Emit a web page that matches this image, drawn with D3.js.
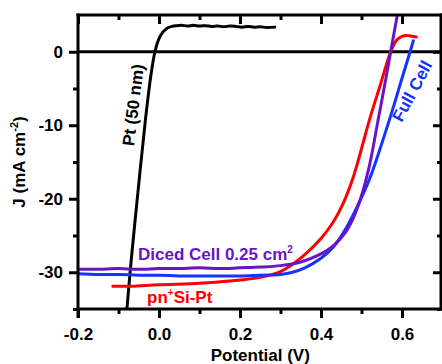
<!DOCTYPE html>
<html>
<head>
<meta charset="utf-8">
<script src="https://cdn.jsdelivr.net/npm/d3@7"></script>
<style>
  html, body { margin: 0; padding: 0; background: #fff; }
  svg { display: block; font-family: "Liberation Sans", Arial, Helvetica, sans-serif; font-weight: bold; }
</style>
</head>
<body>
<svg id="chart" width="442" height="364"></svg>
<script>
// Axis ticks and labels
const xMajor = [-0.2, 0.0, 0.2, 0.4, 0.6];
const xMajorLabels = ["-0.2", "0.0", "0.2", "0.4", "0.6"];
const xMinor = [-0.1, 0.1, 0.3, 0.5];
const yMajor = [0, -10, -20, -30];
const yMajorLabels = ["0", "-10", "-20", "-30"];
const yMinor = [-5, -15, -25, -35];

// Pt (50 nm) electrode
const ptV = [-0.080, -0.068, -0.050, -0.033, -0.020, -0.010, 0.000, 0.010, 0.020, 0.032, 0.045,
             0.055, 0.070, 0.085, 0.100, 0.115, 0.130, 0.145, 0.160, 0.175, 0.190,
             0.205, 0.220, 0.235, 0.250, 0.265, 0.286];
const ptJ = [-35.5, -28.0, -18.0, -9.0, -3.2, 0.0, 1.8, 2.7, 3.2, 3.45, 3.55,
             3.6, 3.5, 3.6, 3.5, 3.55, 3.45, 3.5, 3.4, 3.5, 3.45,
             3.35, 3.45, 3.35, 3.4, 3.3, 3.35];

// Diced cell 0.25 cm2
const dicedV = [-0.2, -0.15, -0.1, -0.05, 0.0, 0.05, 0.1, 0.15, 0.2, 0.25, 0.3, 0.35,
                0.40, 0.43, 0.46, 0.48, 0.50, 0.52, 0.54, 0.56, 0.572, 0.595];
const dicedJ = [-29.6, -29.6, -29.5, -29.6, -29.5, -29.5, -29.4, -29.5, -29.4, -29.3, -29.1, -28.6,
                -27.5, -26.4, -24.6, -22.6, -19.6, -15.4, -9.6, -3.7, 0.0, 7.0];

// Full cell
const fullV = [-0.2, -0.15, -0.1, -0.05, 0.0, 0.05, 0.1, 0.15, 0.2, 0.25, 0.30, 0.33,
               0.36, 0.40, 0.43, 0.46, 0.49, 0.52, 0.55, 0.58, 0.60, 0.62, 0.628];
const fullJ = [-30.2, -30.3, -30.3, -30.4, -30.4, -30.5, -30.5, -30.5, -30.5, -30.4, -30.3, -30.0,
               -29.4, -28.1, -26.6, -24.2, -21.0, -17.3, -12.5, -7.3, -3.6, 0.0, 1.5];

// pn+Si-Pt
const pnV = [-0.114, -0.07, 0.0, 0.1, 0.175, 0.25, 0.30, 0.33, 0.36, 0.40, 0.43, 0.455,
             0.48, 0.50, 0.52, 0.546, 0.572, 0.587, 0.600, 0.612, 0.625, 0.635];
const pnJ = [-31.9, -31.9, -31.7, -31.5, -31.2, -30.7, -29.9, -28.9, -27.6, -25.4, -23.2, -20.6,
             -17.0, -13.2, -9.2, -4.6, 0.0, 1.6, 2.1, 2.2, 2.1, 2.0];

const pLeft = 78, pRight = 442.5, pTop = 15, pBottom = 309;

const x = d3.scaleLinear().domain([-0.2, 0.7]).range([pLeft, pRight]);
const y = d3.scaleLinear().domain([-35, 5]).range([pBottom, pTop]);

const svg = d3.select("#chart");

svg.append("defs").append("clipPath").attr("id", "plotClip")
  .append("rect").attr("x", pLeft).attr("y", pTop)
  .attr("width", pRight - pLeft).attr("height", pBottom - pTop);

const sw = 3;

function styleAxis(g) {
  g.select(".domain").remove();
  g.selectAll(".tick line").attr("stroke", "#000").attr("stroke-width", sw);
}
function styleLabels(g) {
  g.selectAll("text").attr("font-size", 17).attr("fill", "#000")
    .attr("font-family", null).attr("font-weight", "bold");
}

// Bottom axis: major outward ticks with labels, minor ticks between
svg.append("g").attr("transform", `translate(0,${pBottom})`)
  .call(d3.axisBottom(x).tickValues(xMajor).tickSize(9).tickPadding(10)
        .tickFormat((d, i) => xMajorLabels[i]))
  .call(styleAxis).call(styleLabels);
svg.append("g").attr("transform", `translate(0,${pBottom})`)
  .call(d3.axisBottom(x).tickValues(xMinor).tickSize(5).tickFormat(""))
  .call(styleAxis);

// Top axis: inward ticks
svg.append("g").attr("transform", `translate(0,${pTop})`)
  .call(d3.axisTop(x).tickValues(xMajor).tickSize(-9).tickFormat(""))
  .call(styleAxis);
svg.append("g").attr("transform", `translate(0,${pTop})`)
  .call(d3.axisTop(x).tickValues(xMinor).tickSize(-5).tickFormat(""))
  .call(styleAxis);

// Left axis: major outward ticks with labels
svg.append("g").attr("transform", `translate(${pLeft},0)`)
  .call(d3.axisLeft(y).tickValues(yMajor).tickSize(9).tickPadding(6)
        .tickFormat((d, i) => yMajorLabels[i]))
  .call(styleAxis).call(styleLabels);
svg.append("g").attr("transform", `translate(${pLeft},0)`)
  .call(d3.axisLeft(y).tickValues(yMinor).tickSize(5).tickFormat(""))
  .call(styleAxis);

// Right axis: inward ticks
svg.append("g").attr("transform", `translate(${pRight - 1.5},0)`)
  .call(d3.axisRight(y).tickValues(yMajor).tickSize(-8).tickFormat(""))
  .call(styleAxis);
svg.append("g").attr("transform", `translate(${pRight - 1.5},0)`)
  .call(d3.axisRight(y).tickValues(yMinor).tickSize(-4).tickFormat(""))
  .call(styleAxis);

// Zero-current line
svg.append("line")
  .attr("x1", pLeft).attr("x2", pRight).attr("y1", y(0)).attr("y2", y(0))
  .attr("stroke", "#000").attr("stroke-width", sw);

// J-V curves
const line = d3.line().x(d => x(d[0])).y(d => y(d[1])).curve(d3.curveCatmullRom.alpha(0.5));
const curves = [
  { v: ptV, j: ptJ, color: "#000000" },
  { v: pnV, j: pnJ, color: "#ff0000" },
  { v: fullV, j: fullJ, color: "#1533ff" },
  { v: dicedV, j: dicedJ, color: "#6a14c8" }
];
const plot = svg.append("g").attr("clip-path", "url(#plotClip)");
curves.forEach(c => {
  plot.append("path")
    .datum(c.v.map((v, i) => [v, c.j[i]]))
    .attr("fill", "none")
    .attr("stroke", c.color)
    .attr("stroke-width", 3)
    .attr("stroke-linejoin", "round")
    .attr("stroke-linecap", "round")
    .attr("d", line);
});

// Frame
svg.append("line").attr("x1", pLeft).attr("x2", pLeft).attr("y1", pTop - 1.5).attr("y2", pBottom + 9)
  .attr("stroke", "#000").attr("stroke-width", sw);
svg.append("line").attr("x1", pLeft - 1.5).attr("x2", pRight).attr("y1", pBottom).attr("y2", pBottom)
  .attr("stroke", "#000").attr("stroke-width", sw);
svg.append("line").attr("x1", pLeft - 1.5).attr("x2", pRight).attr("y1", pTop).attr("y2", pTop)
  .attr("stroke", "#000").attr("stroke-width", sw);
svg.append("line").attr("x1", pRight - 1.5).attr("x2", pRight - 1.5).attr("y1", pTop - 1.5).attr("y2", pBottom + 1.5)
  .attr("stroke", "#000").attr("stroke-width", sw);

// Axis titles
svg.append("text")
  .attr("x", (pLeft + pRight) / 2).attr("y", 361)
  .attr("text-anchor", "middle").attr("font-size", 17)
  .text("Potential (V)");

const yt = svg.append("text")
  .attr("transform", `translate(25,${(pTop + pBottom) / 2}) rotate(-90)`)
  .attr("text-anchor", "middle").attr("font-size", 17);
yt.append("tspan").text("J (mA cm");
yt.append("tspan").attr("font-size", 11).attr("dy", -7).text("-2");
yt.append("tspan").attr("dy", 7).text(")");

// Curve labels
svg.append("text")
  .attr("transform", "translate(133,105) rotate(-83)")
  .attr("text-anchor", "middle").attr("dy", "0.35em").attr("font-size", 17)
  .attr("fill", "#000").text("Pt (50 nm)");

svg.append("text")
  .attr("transform", "translate(412,91) rotate(-62)")
  .attr("text-anchor", "middle").attr("dy", "0.35em").attr("font-size", 17)
  .attr("fill", "#1533ff").text("Full Cell");

const dl = svg.append("text")
  .attr("x", 138).attr("y", 260).attr("font-size", 17).attr("fill", "#6a14c8");
dl.append("tspan").text("Diced Cell 0.25 cm");
dl.append("tspan").attr("font-size", 10).attr("dy", -7).text("2");

const pl = svg.append("text")
  .attr("x", 147).attr("y", 303).attr("font-size", 17).attr("fill", "#ff0000");
pl.append("tspan").text("pn");
pl.append("tspan").attr("font-size", 10).attr("dy", -7).text("+");
pl.append("tspan").attr("dy", 7).text("Si-Pt");
</script>
</body>
</html>
